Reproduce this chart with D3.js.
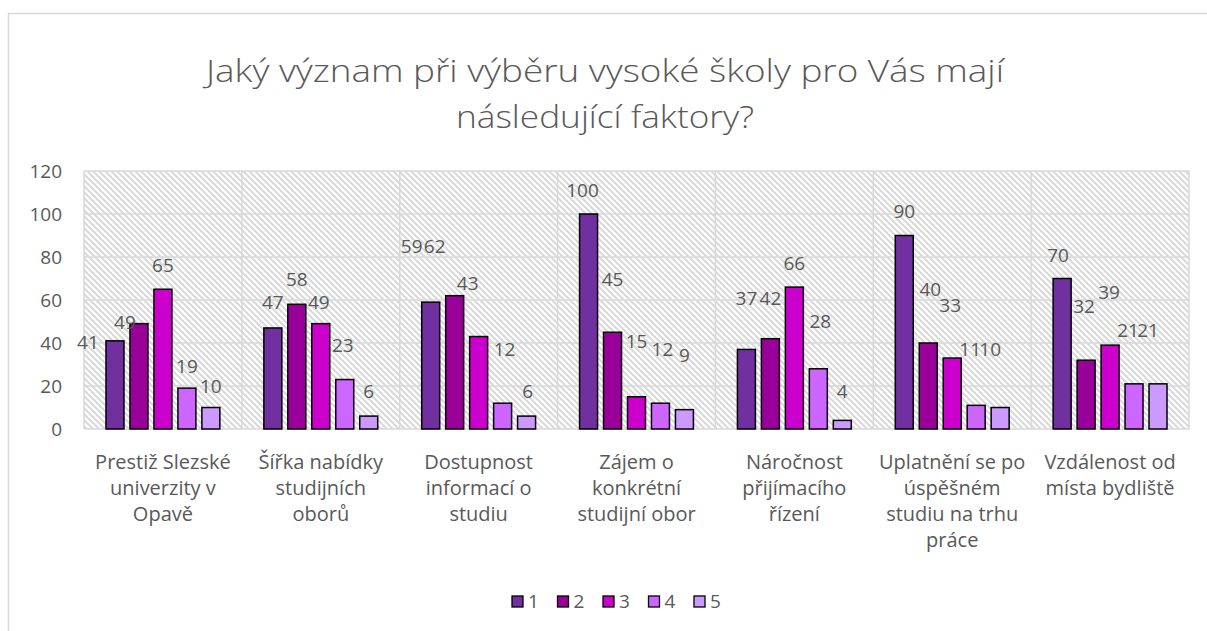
<!DOCTYPE html>
<html><head><meta charset="utf-8">
<script src="https://cdn.jsdelivr.net/npm/d3@7"></script>
<style>
html,body{margin:0;padding:0;background:#fff;}
svg text{font-family:"Open Sans","Noto Sans",sans-serif;fill:#595959;}
</style></head>
<body>
<svg id="c" width="1207" height="631"></svg>
<script>
const titleLines = ["Jaký význam při výběru vysoké školy pro Vás mají", "následující faktory?"];
const categories = [
  ["Prestiž Slezské", "univerzity v", "Opavě"],
  ["Šířka nabídky", "studijních", "oborů"],
  ["Dostupnost", "informací o", "studiu"],
  ["Zájem o", "konkrétní", "studijní obor"],
  ["Náročnost", "přijímacího", "řízení"],
  ["Uplatnění se po", "úspěšném", "studiu na trhu", "práce"],
  ["Vzdálenost od", "místa bydliště"]
];
const seriesNames = ["1", "2", "3", "4", "5"];
const s1 = [41, 47, 59, 100, 37, 90, 70];
const s2 = [49, 58, 62, 45, 42, 40, 32];
const s3 = [65, 49, 43, 15, 66, 33, 39];
const s4 = [19, 23, 12, 12, 28, 11, 21];
const s5 = [10, 6, 6, 9, 4, 10, 21];
const yTicks = [0, 20, 40, 60, 80, 100, 120];
const colors = ["#7030A0", "#990099", "#CC00CC", "#CC66FF", "#CC99FF"];

// manual data-label nudges [dx, dy] copied from the source chart (per category, per series)
const labelNudge = [
  [[-27, 23], [-14, 20], [0, -2], [0, 0], [0, 0]],
  [[0, -4], [0, -3], [-2, 0], [-2, -13], [0, -3]],
  [[-19, -34], [-20, -28], [-11, -32], [2, -32], [1, -3]],
  [[-6, -2], [0, -31], [0, -34], [2, -32], [0, -33]],
  [[0, -29], [0, -19], [0, -2], [2, -26], [0, -7]],
  [[0, -3], [2, -32], [-2, -31], [-6, -34], [-10, -37]],
  [[-4, -2], [-2, -32], [-1, -31], [-6, -32], [-10, -32]]
];

const series = [s1, s2, s3, s4, s5];
const svg = d3.select("#c");

// chart border
svg.append("rect").attr("x", 8.5).attr("y", 13.5).attr("width", 1210).attr("height", 640)
  .attr("fill", "#fff").attr("stroke", "#d9d9d9").attr("stroke-width", 1.5);

const defs = svg.append("defs");
const pat = defs.append("pattern").attr("id", "hatch").attr("patternUnits", "userSpaceOnUse")
  .attr("width", 6).attr("height", 6);
pat.append("rect").attr("width", 6).attr("height", 6).attr("fill", "#fff");
pat.append("path").attr("d", "M-1,-1 L7,7 M-1,5 L1,7 M5,-1 L7,1")
  .attr("stroke", "#d9d9d9").attr("stroke-width", 2);

const L = 84, R = 1189, T = 171, B = 429;
const x0 = d3.scaleBand().domain(d3.range(categories.length)).range([L, R]);
const y = d3.scaleLinear().domain([0, 120]).range([B, T]);
const x1 = d3.scaleBand().domain(d3.range(seriesNames.length))
  .range([22, x0.bandwidth() - 22]).paddingInner(0.25).paddingOuter(0);

// plot background
svg.append("rect").attr("x", L).attr("y", T).attr("width", R - L).attr("height", B - T).attr("fill", "url(#hatch)");

// gridlines
const g = svg.append("g");
g.selectAll("line.h").data(yTicks).join("line").attr("class", "h")
  .attr("x1", L).attr("x2", R).attr("y1", d => y(d)).attr("y2", d => y(d))
  .attr("stroke", "#d9d9d9").attr("stroke-width", 1.5);
g.selectAll("line.v").data(d3.range(categories.length + 1)).join("line").attr("class", "v")
  .attr("x1", d => L + d * x0.bandwidth()).attr("x2", d => L + d * x0.bandwidth())
  .attr("y1", T).attr("y2", B)
  .attr("stroke", "#d9d9d9").attr("stroke-width", 1.5);

// y axis labels
const yAxis = d3.axisLeft(y).tickValues(yTicks).tickSize(0).tickPadding(0);
const ya = svg.append("g").attr("transform", `translate(62,0)`).call(yAxis);
ya.select(".domain").remove();
ya.selectAll("text").attr("font-size", 19).attr("fill", "#595959")
  .style("font-family", "'Open Sans','Noto Sans',sans-serif").attr("dy", "0.35em");

// bars
const cg = svg.append("g");
categories.forEach((c, i) => {
  series.forEach((s, j) => {
    cg.append("rect").attr("x", x0(i) + x1(j)).attr("y", y(s[i]))
      .attr("width", x1.bandwidth()).attr("height", B - y(s[i]))
      .attr("fill", colors[j]).attr("stroke", "#000").attr("stroke-width", 1.5);
  });
});

// value labels
categories.forEach((c, i) => {
  series.forEach((s, j) => {
    const cx = x0(i) + x1(j) + x1.bandwidth() / 2;
    const [dx, dy] = labelNudge[i][j];
    svg.append("text").attr("x", cx + dx).attr("y", y(s[i]) - 15 + dy).attr("text-anchor", "middle")
      .attr("font-size", 19).text(s[i]);
  });
});

// category labels
categories.forEach((lines, i) => {
  const t = svg.append("text").attr("text-anchor", "middle").attr("font-size", 20);
  lines.forEach((ln, k) => {
    t.append("tspan").attr("x", x0(i) + x0.bandwidth() / 2).attr("y", 469 + k * 26).text(ln);
  });
});

// title
const titleWidths = [798, 298];
titleLines.forEach((ln, k) => {
  svg.append("text").attr("x", 605).attr("y", 82 + k * 46).attr("text-anchor", "middle")
    .attr("font-size", 31).attr("font-weight", 300)
    .attr("textLength", titleWidths[k]).attr("lengthAdjust", "spacingAndGlyphs").text(ln);
});

// legend
const lg = svg.append("g");
seriesNames.forEach((n, j) => {
  const lx = 512 + j * 45.5;
  lg.append("rect").attr("x", lx).attr("y", 596).attr("width", 11).attr("height", 11)
    .attr("fill", colors[j]).attr("stroke", "#000").attr("stroke-width", 1.3);
  lg.append("text").attr("x", lx + 16).attr("y", 608).attr("font-size", 19).text(n);
});
</script>
</body></html>
